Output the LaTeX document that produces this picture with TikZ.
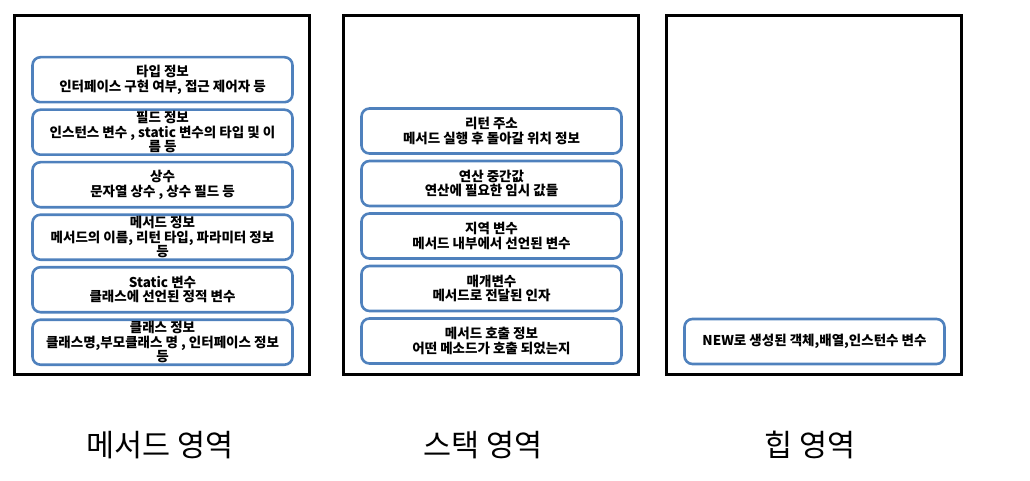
\documentclass[tikz,border=0pt]{standalone}
\usepackage{fontspec}
\setmainfont{Noto Sans CJK KR}
\usetikzlibrary{positioning}
\definecolor{infoblue}{RGB}{79,129,189}

\begin{document}
\begin{tikzpicture}[x=1pt, y=-1pt,
  area/.style={draw, line width=3pt, minimum width=295pt, minimum height=358pt, inner sep=0pt},
  info/.style={draw=infoblue, line width=2.6pt, rounded corners=8pt, minimum width=260pt,
    minimum height=45pt, inner sep=0pt, align=center, font=\fontsize{13.5}{14.3}\selectfont\bfseries},
  title/.style={font=\fontsize{30.5}{34}\selectfont}]
  \useasboundingbox (0,0) rectangle (1030,481);
  % three memory areas
  \node[area] (method) at (161.5,195) {};
  \node[area] (stack) at (490.5,195) {};
  \node[area] (heap) at (813.5,195) {};
  \node[title] (methodtitle) at (160,445) {메서드 영역};
  \node[title] (stacktitle) at (483,445) {스택 영역};
  \node[title] (heaptitle) at (810,445) {힙 영역};
  % method area
  \begin{scope}[node distance=4.9pt]
  \node[info] (typeinfo) at (162.5,79.7) {타입 정보\\인터페이스 구현 여부, 접근 제어자 등};
  \node[info, below=of typeinfo] (fieldinfo) {필드 정보\\인스턴스 변수 , static 변수의 타입 및 이\\름 등};
  \node[info, below=of fieldinfo] (constinfo) {상수\\문자열 상수 , 상수 필드 등};
  \node[info, below=of constinfo] (methinfo) {메서드 정보\\메서드의 이름, 리턴 타입, 파라미터 정보\\등};
  \node[info, below=of methinfo] (staticinfo) {Static 변수\\클래스에 선언된 정적 변수};
  \node[info, below=of staticinfo] (classinfo) {클래스 정보\\클래스명,부모클래스 명 , 인터페이스 정보\\등};
  \end{scope}
  % stack area
  \begin{scope}[node distance=4.9pt]
  \node[info] (retaddr) at (491.5,131) {리턴 주소\\메서드 실행 후 돌아갈 위치 정보};
  \node[info, below=of retaddr] (midval) {연산 중간값\\연산에 필요한 임시 값들};
  \node[info, below=of midval] (localvar) {지역 변수\\메서드 내부에서 선언된 변수};
  \node[info, below=of localvar] (param) {매개변수\\메서드로 전달된 인자};
  \node[info, below=of param] (callinfo) {메서드 호출 정보\\어떤 메소드가 호출 되었는지};
  \end{scope}
  % heap area
  \node[info] (object) at (814.5,341.5) {NEW로 생성된 객체,배열,인스턴수 변수};
\end{tikzpicture}
\end{document}
